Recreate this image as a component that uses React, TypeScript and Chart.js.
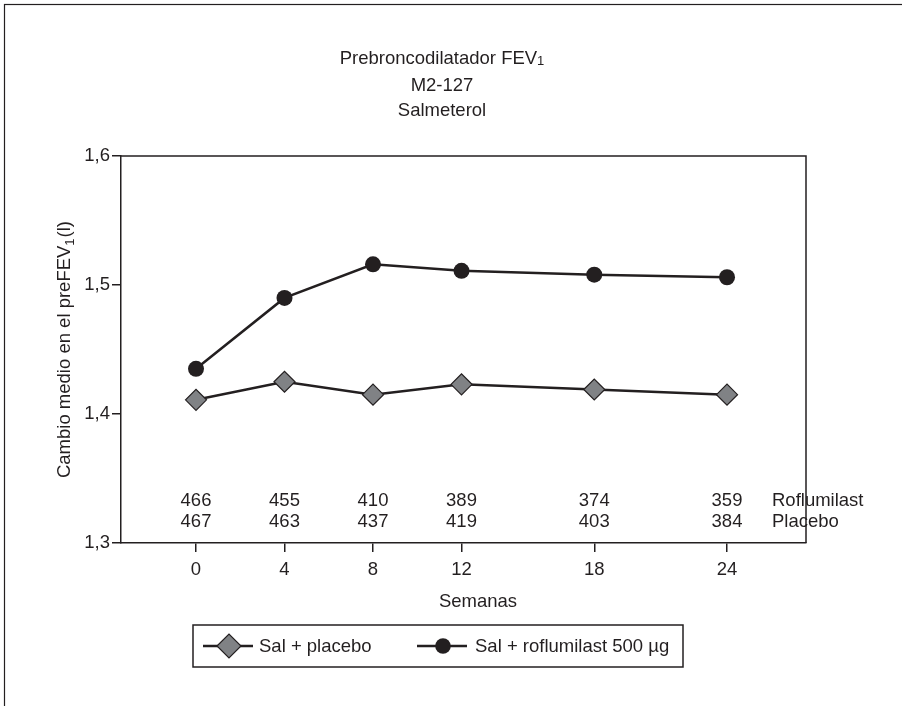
import React, { useEffect, useRef } from 'react';
import { Chart, registerables } from 'chart.js';

Chart.register(...registerables);

// ---- data ----
const weeks = [0, 4, 8, 12, 18, 24];
const placeboValues = [1.411, 1.425, 1.415, 1.423, 1.419, 1.415];
const roflumilastValues = [1.435, 1.49, 1.516, 1.511, 1.508, 1.506];
const yTicks = [1.3, 1.4, 1.5, 1.6];
const nRoflumilast = [466, 455, 410, 389, 374, 359];
const nPlacebo = [467, 463, 437, 419, 403, 384];
const nRowLabels = ['Roflumilast', 'Placebo'];
const seriesLabels = ['Sal + placebo', 'Sal + roflumilast 500 µg'];
const titleLines = ['Prebroncodilatador FEV', 'M2-127', 'Salmeterol'];
const titleSub = '1';
const xAxisTitle = 'Semanas';
const yAxisTitleParts = ['Cambio medio en el preFEV', '1', '(l)'];

const FONT = '"Liberation Sans", Arial, sans-serif';
const INK = '#231f20';
const GRAY = '#808285';
const FS = 18.5;
const FS_SUB = 13;

function drawDiamond(ctx: CanvasRenderingContext2D, x: number, y: number, r: number) {
  ctx.beginPath();
  ctx.moveTo(x - r, y);
  ctx.lineTo(x, y - r);
  ctx.lineTo(x + r, y);
  ctx.lineTo(x, y + r);
  ctx.closePath();
  ctx.fillStyle = GRAY;
  ctx.fill();
  ctx.lineWidth = 1.2;
  ctx.strokeStyle = INK;
  ctx.stroke();
}

const decor = {
  id: 'decor',
  beforeDraw(chart: any) {
    const ctx = chart.ctx;
    ctx.save();
    ctx.fillStyle = '#ffffff';
    ctx.fillRect(0, 0, chart.width, chart.height);
    ctx.restore();
  },
  afterDraw(chart: any) {
    const ctx: CanvasRenderingContext2D = chart.ctx;
    const ca = chart.chartArea;
    const xs = chart.scales.x;
    ctx.save();

    // outer frame
    ctx.strokeStyle = INK;
    ctx.lineWidth = 1.2;
    ctx.strokeRect(4.5, 4.5, 1200, 1200);

    ctx.fillStyle = INK;
    ctx.textBaseline = 'alphabetic';

    // title
    const cx = 442;
    const main = titleLines[0];
    ctx.font = `${FS}px ${FONT}`;
    const wMain = ctx.measureText(main).width;
    ctx.font = `${FS_SUB}px ${FONT}`;
    const wSub = ctx.measureText(titleSub).width;
    const start = cx - (wMain + wSub) / 2;
    ctx.textAlign = 'left';
    ctx.font = `${FS}px ${FONT}`;
    ctx.fillText(main, start, 64);
    ctx.font = `${FS_SUB}px ${FONT}`;
    ctx.fillText(titleSub, start + wMain, 65);
    ctx.font = `${FS}px ${FONT}`;
    ctx.textAlign = 'center';
    ctx.fillText(titleLines[1], cx, 91);
    ctx.fillText(titleLines[2], cx, 116);

    // y axis title (rotated, with subscript)
    ctx.save();
    const cy = (ca.top + ca.bottom) / 2;
    ctx.translate(70, cy);
    ctx.rotate(-Math.PI / 2);
    ctx.textAlign = 'left';
    ctx.font = `${FS}px ${FONT}`;
    const w0 = ctx.measureText(yAxisTitleParts[0]).width;
    const w2 = ctx.measureText(yAxisTitleParts[2]).width;
    ctx.font = `${FS_SUB}px ${FONT}`;
    const w1 = ctx.measureText(yAxisTitleParts[1]).width + 1;
    const tot = w0 + w1 + w2;
    let px = -tot / 2;
    ctx.font = `${FS}px ${FONT}`;
    ctx.fillText(yAxisTitleParts[0], px, 0);
    px += w0;
    ctx.font = `${FS_SUB}px ${FONT}`;
    ctx.fillText(yAxisTitleParts[1], px, 4);
    px += w1;
    ctx.font = `${FS}px ${FONT}`;
    ctx.fillText(yAxisTitleParts[2], px, 0);
    ctx.restore();

    // n per visit rows
    ctx.font = `${FS}px ${FONT}`;
    ctx.textAlign = 'center';
    ctx.textBaseline = 'middle';
    const row1 = ca.bottom - 42;
    const row2 = ca.bottom - 21;
    weeks.forEach((w, i) => {
      const px2 = xs.getPixelForValue(w);
      ctx.fillText(String(nRoflumilast[i]), px2, row1);
      ctx.fillText(String(nPlacebo[i]), px2, row2);
    });
    ctx.textAlign = 'left';
    ctx.fillText(nRowLabels[0], 772, row1);
    ctx.fillText(nRowLabels[1], 772, row2);

    // x axis title
    ctx.textAlign = 'center';
    ctx.textBaseline = 'alphabetic';
    ctx.fillText(xAxisTitle, 478, ca.bottom + 64);

    // top & right plot borders (drawn over text)
    ctx.strokeStyle = INK;
    ctx.lineWidth = 1.5;
    ctx.beginPath();
    ctx.moveTo(ca.left, ca.top);
    ctx.lineTo(ca.right, ca.top);
    ctx.lineTo(ca.right, ca.bottom);
    ctx.stroke();

    // legend
    const lx = 193, ly = 625, lw = 490, lh = 42;
    ctx.lineWidth = 1.5;
    ctx.strokeRect(lx, ly, lw, lh);
    const my = ly + lh / 2;
    ctx.lineWidth = 2.5;
    ctx.beginPath();
    ctx.moveTo(203, my);
    ctx.lineTo(253, my);
    ctx.stroke();
    drawDiamond(ctx, 229, my, 12);
    ctx.strokeStyle = INK;
    ctx.lineWidth = 2.5;
    ctx.beginPath();
    ctx.moveTo(417, my);
    ctx.lineTo(467, my);
    ctx.stroke();
    ctx.beginPath();
    ctx.arc(443, my, 7.8, 0, Math.PI * 2);
    ctx.fillStyle = INK;
    ctx.fill();
    ctx.font = `${FS}px ${FONT}`;
    ctx.textAlign = 'left';
    ctx.textBaseline = 'middle';
    ctx.fillText(seriesLabels[0], 259, my + 1);
    ctx.fillText(seriesLabels[1], 475, my + 1);

    ctx.restore();
  },
};

export default function App() {
  const ref = useRef<HTMLCanvasElement | null>(null);

  useEffect(() => {
    if (!ref.current) return;
    const chart = new Chart(ref.current, {
      type: 'line',
      data: {
        datasets: [
          {
            label: seriesLabels[0],
            data: weeks.map((w, i) => ({ x: w, y: placeboValues[i] })),
            borderColor: INK,
            borderWidth: 2.5,
            pointStyle: 'rectRot',
            pointRadius: 10.5,
            pointBackgroundColor: GRAY,
            pointBorderColor: INK,
            pointBorderWidth: 1.2,
            tension: 0,
            clip: false,
          },
          {
            label: seriesLabels[1],
            data: weeks.map((w, i) => ({ x: w, y: roflumilastValues[i] })),
            borderColor: INK,
            borderWidth: 2.5,
            pointStyle: 'circle',
            pointRadius: 8,
            pointBackgroundColor: INK,
            pointBorderColor: INK,
            pointBorderWidth: 0,
            tension: 0,
            clip: false,
          },
        ],
      },
      options: {
        animation: false,
        responsive: false,
        devicePixelRatio: 1,
        layout: { padding: { left: 0, top: 156, right: 96, bottom: 0 } },
        plugins: {
          legend: { display: false },
          title: { display: false },
          tooltip: { enabled: false },
        },
        scales: {
          x: {
            type: 'linear',
            min: -3.39,
            max: 27.57,
            afterBuildTicks: (s: any) => {
              s.ticks = weeks.map((v) => ({ value: v }));
            },
            afterFit: (s: any) => {
              s.height = 163;
            },
            ticks: {
              color: INK,
              font: { family: FONT, size: FS },
              padding: 7,
              maxRotation: 0,
              autoSkip: false,
              callback: (v: any) => String(v),
            },
            grid: {
              display: true,
              drawOnChartArea: false,
              drawTicks: true,
              tickLength: 9,
              color: INK,
              lineWidth: 1.5,
            },
            border: { display: true, color: INK, width: 1.5 },
          },
          y: {
            type: 'linear',
            min: 1.3,
            max: 1.6,
            afterBuildTicks: (s: any) => {
              s.ticks = yTicks.map((v) => ({ value: v }));
            },
            afterFit: (s: any) => {
              s.width = 121;
            },
            ticks: {
              color: INK,
              font: { family: FONT, size: FS },
              padding: 2,
              callback: (v: any) => Number(v).toFixed(1).replace('.', ','),
            },
            grid: {
              display: true,
              drawOnChartArea: false,
              drawTicks: true,
              tickLength: 9,
              color: INK,
              lineWidth: 1.5,
            },
            border: { display: true, color: INK, width: 1.5 },
          },
        },
      },
      plugins: [decor],
    });
    return () => chart.destroy();
  }, []);

  return (
    <div style={{ position: 'absolute', left: 0, top: 0, width: 902, height: 706, background: '#fff' }}>
      <canvas ref={ref} width={902} height={706} style={{ display: 'block' }} />
    </div>
  );
}
